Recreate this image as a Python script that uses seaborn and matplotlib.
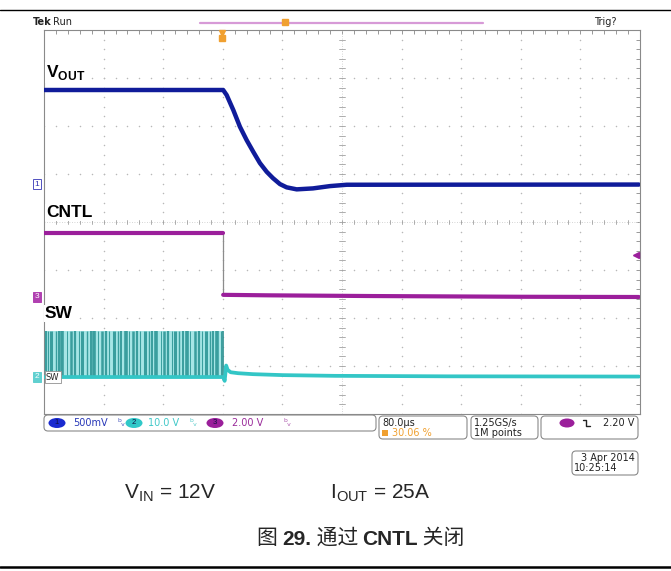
import numpy as np
import matplotlib.pyplot as plt
import seaborn as sns
from matplotlib.patches import FancyBboxPatch, Ellipse

sns.set_style("white")
plt.rcParams['font.family'] = ['Liberation Sans', 'Noto Sans CJK SC', 'DejaVu Sans']
plt.rcParams['mathtext.fontset'] = 'custom'
plt.rcParams['mathtext.rm'] = 'Liberation Sans'
plt.rcParams['mathtext.bf'] = 'Liberation Sans:bold'

# scope settings
t_div = 80.0        # us per division
trig_pos = 240.5    # us from left edge (30.06 %)

# VOUT, ch1 500 mV/div
vout_t = [-240, 0, 4.7, 13.6, 22.5, 31.5, 40.4, 49.3, 58.4, 66.8, 76.2, 85.2,
          98.7, 120.5, 143.4, 165.8, 558]
vout_v = [0.98, 0.98, 0.927, 0.771, 0.597, 0.458, 0.336, 0.219, 0.128, 0.062,
          0.0, -0.034, -0.055, -0.045, -0.021, -0.007, -0.005]

# CNTL, ch3 2 V/div
cntl_hi_t = [-240, 0]
cntl_hi_v = [2.67, 2.67]
cntl_lo_t = [0, 60, 200, 400, 558]
cntl_lo_v = [0.09, 0.07, 0.04, 0.01, 0.0]

# SW, ch2 10 V/div
sw_t = [-240, 0, 2, 4, 6, 10, 20, 40, 80, 150, 300, 558]
sw_v = [0, 0, -0.8, 2.4, 1.5, 1.0, 0.8, 0.6, 0.4, 0.25, 0.15, 0.1]
sw_top = 9.6
sw_pulses = [-238, -235, -231, -224, -220, -216, -209, -204, -199, -194, -189,
             -183, -178, -173, -168, -162, -157, -153, -147, -141, -137, -131,
             -126, -121, -116, -111, -105, -99, -95, -90, -84, -79, -74, -69,
             -64, -59, -54, -48, -44, -38, -33, -28, -23, -18, -13, -8, -3]
pulse_widths = [1.6, 0.8, 2.2, 1.0, 1.4, 2.6, 0.7, 1.8]

ch1 = dict(scale=0.5, off=0.79)
ch2 = dict(scale=10.0, off=-3.23)
ch3 = dict(scale=2.0, off=-1.5625)

blue = '#101c9a'
mag = '#9b1f9b'
cyan = '#33c6c6'


def xd(t):
    return (np.asarray(t, dtype=float) + trig_pos) / t_div


def yd(v, ch):
    return np.asarray(v, dtype=float) / ch['scale'] + ch['off']


fig = plt.figure(figsize=(6.71, 5.71), dpi=100)
W, H = 671, 571
ax = fig.add_axes([44 / W, (H - 414) / H, 596 / W, 384 / H])
ax.set_xlim(0, 10)
ax.set_ylim(-4, 4)

# graticule
gx = np.arange(0, 10.01, 0.2)
gy = np.arange(-4, 4.01, 0.2)
for k in range(1, 10):
    if k != 5:
        ax.scatter(np.full_like(gy, k), gy, s=1.2, color='#b8b8b8', lw=0, zorder=1)
for k in range(-3, 4):
    if k != 0:
        ax.scatter(gx, np.full_like(gx, k), s=1.2, color='#b8b8b8', lw=0, zorder=1)
ax.axvline(5, color='#c8c8c8', lw=0.6, ls=(0, (1, 2)), zorder=1)
ax.axhline(0, color='#c8c8c8', lw=0.6, ls=(0, (1, 2)), zorder=1)
for yy in gy:
    ax.plot([4.955, 5.045], [yy, yy], color='#a0a0a0', lw=0.6, zorder=1)
for xx in gx:
    ax.plot([xx, xx], [-0.05, 0.05], color='#a0a0a0', lw=0.6, zorder=1)

ax.set_xticks(gx)
ax.set_yticks(gy)
ax.tick_params(direction='in', length=3, width=0.6, color='#888888',
               top=True, right=True, labelbottom=False, labelleft=False)
for s in ax.spines.values():
    s.set_color('#8a8a8a')
    s.set_linewidth(0.8)

# SW burst
ax.fill_between(xd([sw_pulses[0] - 2, 0]), yd([0, 0], ch2), yd([sw_top, sw_top], ch2),
                color='#a6e6e6', lw=0, zorder=2)
for i, tp in enumerate(sw_pulses):
    ax.vlines(xd(tp), yd(0, ch2), yd(sw_top, ch2), color='#3a9e9e',
              lw=pulse_widths[i % len(pulse_widths)], zorder=3)
ax.vlines(xd(0), yd(0, ch2), yd(sw_top, ch2), color='#2e9090', lw=1.2, zorder=3)

# traces
sns.lineplot(x=xd(sw_t), y=yd(sw_v, ch2), sort=False, estimator=None,
             color=cyan, lw=2.7, ax=ax, zorder=4)
ax.plot(xd([0, 0]), yd([cntl_hi_v[-1], cntl_lo_v[0]], ch3), color='#8c8c8c', lw=0.9, zorder=4)
sns.lineplot(x=xd(cntl_hi_t), y=yd(cntl_hi_v, ch3), sort=False, estimator=None,
             color=mag, lw=3.0, ax=ax, zorder=5)
sns.lineplot(x=xd(cntl_lo_t), y=yd(cntl_lo_v, ch3), sort=False, estimator=None,
             color=mag, lw=3.0, ax=ax, zorder=5)
sns.lineplot(x=xd(vout_t), y=yd(vout_v, ch1), sort=False, estimator=None,
             color=blue, lw=3.2, ax=ax, zorder=6)
ax.set_xlabel('')
ax.set_ylabel('')

# overlay in pixel coordinates
ov = fig.add_axes([0, 0, 1, 1], zorder=10)
ov.set_xlim(0, W)
ov.set_ylim(H, 0)
ov.axis('off')
ov.patch.set_alpha(0)

ov.plot([0, W], [10, 10], color='black', lw=1.0)
ov.plot([0, W], [567, 567], color='black', lw=1.8)

ov.text(33, 22, 'Tek', fontsize=7, fontweight='bold', color='#222222', va='center',
        family='DejaVu Sans')
ov.text(53, 22, 'Run', fontsize=7, color='#222222', va='center', family='DejaVu Sans')
ov.text(594, 22, 'Trig?', fontsize=7, color='#222222', va='center', family='DejaVu Sans')
ov.plot([200, 483], [23, 23], color='#d79ad7', lw=1.6)
ov.plot([285], [22], marker='s', ms=5, color='#f0a030')
ov.plot([222], [33], marker='v', ms=5, color='#f0a030')
ov.plot([222], [38], marker='s', ms=5, color='#f0a030')

# channel labels
lab = dict(fontsize=12.5, fontweight='bold', color='black', va='top', ha='left')
ov.text(46, 63, r'V$_{\mathbf{OUT}}$', bbox=dict(fc='white', ec='none', pad=0.5), **lab)
ov.text(46, 205, 'CNTL', bbox=dict(fc='white', ec='none', pad=0.5), **lab)
ov.text(45, 306, 'SW', bbox=dict(fc='white', ec='none', pad=0.5), **lab)

# ground markers
ov.text(37, 184, '1', fontsize=6, color='#3030b0', ha='center', va='center',
        bbox=dict(boxstyle='square,pad=0.15', fc='white', ec='#5050c0', lw=0.7))
ov.text(37, 297, '3', fontsize=6, color='white', ha='center', va='center',
        bbox=dict(boxstyle='square,pad=0.15', fc='#b040b0', ec='#b040b0', lw=0.7))
ov.text(37, 377, '2', fontsize=6, color='white', ha='center', va='center',
        bbox=dict(boxstyle='square,pad=0.15', fc='#60d0d0', ec='#60d0d0', lw=0.7))
ov.text(46, 377, 'SW', fontsize=6, color='#222222', ha='left', va='center',
        family='DejaVu Sans',
        bbox=dict(boxstyle='square,pad=0.15', fc='white', ec='#909090', lw=0.6))
ov.plot([636], [255], marker='<', ms=4, color=mag)


# status bar
def rbox(x0, y0, x1, y1):
    ov.add_patch(FancyBboxPatch((x0, y0), x1 - x0, y1 - y0,
                                boxstyle='round,pad=0,rounding_size=4',
                                fc='white', ec='#8a8a8a', lw=0.8))


st = dict(fontsize=7, va='center', family='DejaVu Sans')
rbox(44, 415, 376, 431)
for cx, col, num in [(57, '#1a2ad0', '1'), (134, '#30c8c8', '2'), (215, '#9a1f9a', '3')]:
    ov.add_patch(Ellipse((cx, 423), 17, 10, fc=col, ec='none'))
    ov.text(cx, 423, num, ha='center', color='#101040', fontsize=5.5, va='center')
ov.text(73, 423, '500mV', color='#2838b8', **st)
ov.text(148, 423, '10.0 V', color='#40c8c8', **st)
ov.text(232, 423, '2.00 V', color='#9a2a9a', **st)
for bx, col in [(118, '#5060c0'), (190, '#60cccc'), (283, '#b060b0')]:
    ov.text(bx, 423, 'ᵇᵥ', color=col, fontsize=7, va='center', family='DejaVu Sans')

rbox(379, 416, 467, 439)
ov.text(382, 423, '80.0µs', color='#222222', **st)
ov.add_patch(FancyBboxPatch((382, 430), 6, 6, boxstyle='square,pad=0', fc='#f0a030', ec='none'))
ov.text(392, 433, '30.06 %', color='#f0a030', **st)

rbox(471, 416, 538, 439)
ov.text(474, 423, '1.25GS/s', color='#222222', **st)
ov.text(474, 433, '1M points', color='#222222', **st)

rbox(541, 416, 638, 439)
ov.add_patch(Ellipse((567, 423), 15, 9, fc='#9a1f9a', ec='none'))
ov.plot([583, 586, 586, 590], [420, 420, 426, 426], color='#222222', lw=1.0)
ov.text(634, 423, '2.20 V', color='#222222', ha='right', **st)

rbox(572, 451, 638, 475)
ov.text(635, 458, '3 Apr 2014', color='#222222', ha='right', **st)
ov.text(574, 468, '10:25:14', color='#222222', **st)

# conditions and caption
ov.text(124, 493, r'V$_{\mathrm{IN}}$ = 12V', fontsize=15, va='center', ha='left')
ov.text(330, 493, r'I$_{\mathrm{OUT}}$ = 25A', fontsize=15, va='center', ha='left')

cap = dict(fontsize=15, va='center', ha='left')
t1 = ov.text(257, 538, '图 ', family=['Noto Sans CJK SC'], **cap)
t2 = ov.annotate('29.', xy=(1, 0), xycoords=t1, va='bottom', ha='left',
                 fontsize=15, fontweight='bold', family='Liberation Sans')
t3 = ov.annotate(' 通过 ', xy=(1, 0), xycoords=t2, va='bottom', ha='left',
                 fontsize=15, family=['Noto Sans CJK SC'])
t4 = ov.annotate('CNTL', xy=(1, 0), xycoords=t3, va='bottom', ha='left',
                 fontsize=15, fontweight='bold', family='Liberation Sans')
t5 = ov.annotate(' 关闭', xy=(1, 0), xycoords=t4, va='bottom', ha='left',
                 fontsize=15, family=['Noto Sans CJK SC'])

fig.savefig('out.png', dpi=100)
